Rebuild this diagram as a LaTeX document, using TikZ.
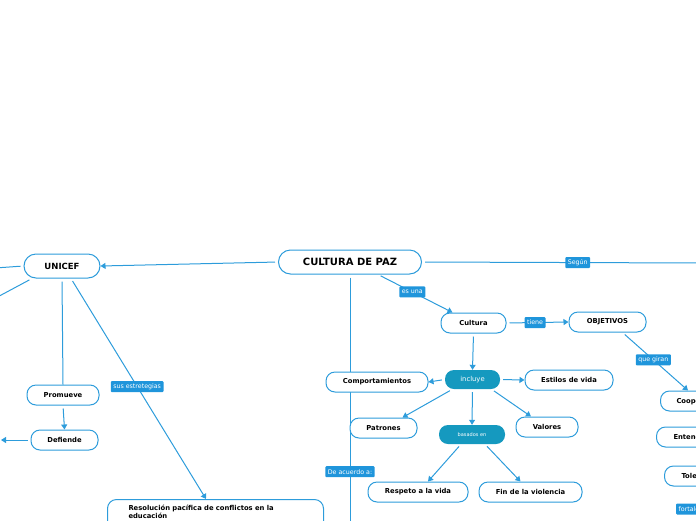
\documentclass[tikz,border=0pt]{standalone}
\usepackage{fontspec}
\setmainfont{DejaVu Sans}
\usetikzlibrary{arrows.meta}
\definecolor{mapblue}{HTML}{2D9CDB}
\definecolor{tagblue}{HTML}{1F95DB}
\definecolor{tealfill}{HTML}{1599BF}
\pgfdeclarelayer{background}
\pgfsetlayers{background,main}

\begin{document}
\begin{tikzpicture}[x=1pt, y=-1pt,
    idea/.style={draw=mapblue, line width=1pt, fill=white, rounded corners=9pt, inner sep=0pt,
        minimum height=20pt, font=\bfseries\fontsize{6.8}{8}\selectfont},
    hub/.style={fill=tealfill, rounded corners=9pt, inner sep=0pt, minimum height=19pt,
        text=white, font=\fontsize{6.8}{8}\selectfont},
    tag/.style={fill=tagblue, text=white, rounded corners=1pt, inner xsep=2.5pt, inner ysep=0pt,
        minimum height=11pt, font=\fontsize{6.3}{7}\selectfont},
    link/.style={draw=mapblue, line width=1pt, shorten <=3pt},
    arr/.style={link, -{Triangle[length=5pt, width=6pt]}}]
    \useasboundingbox (0,0) rectangle (696,520);
    \clip (0,0) rectangle (696,520);

    % central idea
    \node[idea, minimum width=143pt, minimum height=24pt, rounded corners=12pt,
        font=\bfseries\fontsize{10}{12}\selectfont] (paz) at (350,262) {CULTURA DE PAZ};

    % cultura branch
    \node[idea, minimum width=65pt] (cultura) at (473.5,323) {Cultura};
    \node[idea, minimum width=77pt] (objetivos) at (607.5,322) {OBJETIVOS};
    \node[hub, minimum width=55pt] (incluye) at (472.5,379.5) {incluye};
    \node[idea, minimum width=88pt] (estilos) at (569,380) {Estilos de vida};
    \node[idea, minimum width=102pt] (comport) at (377,382) {Comportamientos};
    \node[idea, minimum width=67pt] (patrones) at (383.5,428) {Patrones};
    \node[idea, minimum width=62pt] (valores) at (547,427) {Valores};
    \node[hub, minimum width=66pt, font=\fontsize{5}{6}\selectfont] (basados) at (472,434.5) {basados en};
    \node[idea, minimum width=100pt] (respeto) at (418,492) {Respeto a la vida};
    \node[idea, minimum width=103pt] (fin) at (530.5,492) {Fin de la violencia};

    % objetivos (cut at the right edge)
    \node[idea, anchor=west, inner xsep=16pt, text width=70pt, align=left] (coop) at (660,401) {Cooperación};
    \node[idea, anchor=west, inner xsep=17pt, text width=70pt, align=left] (entend) at (656,437) {Entendimiento};
    \node[idea, anchor=west, inner xsep=17pt, text width=70pt, align=left] (tole) at (664,476) {Tolerancia};
    \node[tag, anchor=west] (fortal) at (676,509) {fortalece};

    % unicef branch
    \node[idea, minimum width=76pt, minimum height=24pt, rounded corners=12pt,
        font=\bfseries\fontsize{8.5}{10}\selectfont] (unicef) at (62,266) {UNICEF};
    \node[idea, minimum width=72pt] (promueve) at (63,395) {Promueve};
    \node[idea, minimum width=67pt] (defiende) at (64.5,440) {Defiende};
    \node[idea, anchor=north west, minimum width=216pt, inner xsep=21pt, inner ysep=6pt,
        text width=174pt, text depth=28pt, align=left] (resolucion) at (107,499)
        {Resolución pacífica de conflictos en la\\educación};

    % free ends off the page
    \coordinate (offR) at (700,263);
    \coordinate (offB) at (350,525);
    \coordinate (offL1) at (-5,268);
    \coordinate (offL2) at (-10,301);
    \coordinate (offL3) at (1,440);

    \begin{pgfonlayer}{background}
        \draw[arr] (paz.west) -- (unicef.east);
        \draw[link] (paz.east) -- node[tag, pos=0.56] (segun) {Según} (offR);
        \draw[link] (paz.south) -- node[tag, pos=0.787] (acuerdo) {De acuerdo a:} (offB);
        \draw[arr] ([xshift=28pt]paz.south) -- node[tag, pos=0.46] (esuna) {es una} ([xshift=-21pt]cultura.north);

        \draw[arr] (cultura.south) -- (incluye.north);
        \draw[arr] (cultura.east) -- node[tag, pos=0.46] (tiene) {tiene} (objetivos.west);
        \draw[arr] ([xshift=15pt]objetivos.south) -- node[tag, pos=0.47] (giran) {que giran} ([xshift=28pt]coop.north west);

        \draw[arr] (incluye.west) -- (comport.east);
        \draw[arr] (incluye.east) -- (estilos.west);
        \draw[arr] ([xshift=-20pt]incluye.south) -- ([xshift=19pt]patrones.north);
        \draw[arr] ([xshift=19pt]incluye.south) -- ([xshift=-16pt]valores.north);
        \draw[arr] (incluye.south) -- (basados.north);
        \draw[arr] ([xshift=-11pt]basados.south) -- ([xshift=10pt]respeto.north);
        \draw[arr] ([xshift=13pt]basados.south) -- ([xshift=-10pt]fin.north);

        \draw[link] (unicef.west) -- (offL1);
        \draw[link] ([xshift=-30pt]unicef.south) -- (offL2);
        \draw[link] (unicef.south) -- (promueve.north);
        \draw[arr] (promueve.south) -- (defiende.north);
        \draw[arr] (defiende.west) -- (offL3);
        \draw[arr] ([xshift=9pt]unicef.south) -- node[tag, pos=0.49] (estrategias) {sus estretegias} ([xshift=99pt]resolucion.north west);
    \end{pgfonlayer}
\end{tikzpicture}
\end{document}
